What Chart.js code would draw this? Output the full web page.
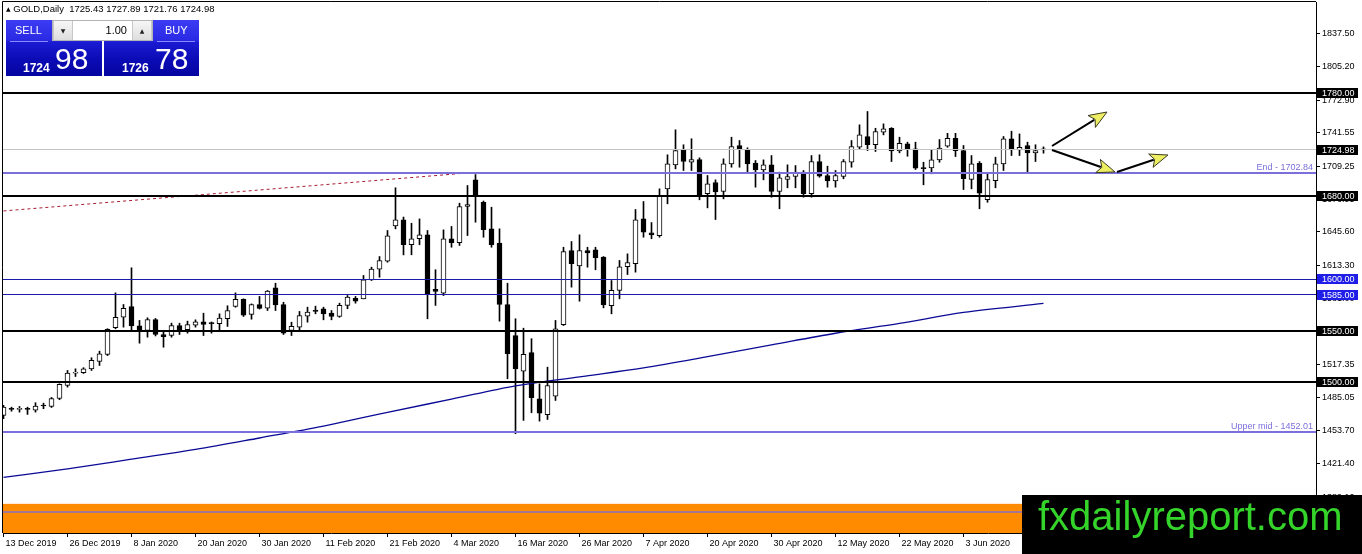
<!DOCTYPE html>
<html>
<head>
<meta charset="utf-8">
<title>GOLD,Daily</title>
<script src="https://cdn.jsdelivr.net/npm/chart.js@4.4.1/dist/chart.umd.min.js"></script>
<style>
  html, body { margin: 0; padding: 0; background: #fff; }
  #wrap { position: relative; width: 1362px; height: 554px; overflow: hidden; font-family: 'Liberation Sans', Arial, sans-serif; }
  #chart { position: absolute; left: 0; top: 0; }
  .title { position: absolute; left: 6px; top: 3px; font-size: 9.5px; line-height: 12px; color: #000; white-space: pre; }
  .title .tri { font-family: 'DejaVu Sans'; font-size: 6px; vertical-align: 1px; }
  .box { position: absolute; top: 20px; height: 56px; color: #fff;
         background: linear-gradient(to bottom, #3c3cf4 0%, #2a2ae4 36%, #1a1ad2 40%, #0c0cb6 70%, #0404a0 100%); }
  .sell { left: 6px; width: 96px; }
  .buy { left: 104px; width: 95px; }
  .box .lbl { position: absolute; top: 4px; font-size: 11px; line-height: 12px; }
  .box .sep { position: absolute; top: 21px; width: 38px; height: 1px; background: #8a8aff; }
  .box .small { position: absolute; top: 42px; font-size: 12px; line-height: 12px; font-weight: bold; }
  .box .big { position: absolute; top: 24px; font-size: 30px; line-height: 30px; }
  .lot { position: absolute; left: 52px; top: 20px; width: 101px; height: 21px; background: #fff; border: 1px solid #b4b4b4; box-sizing: border-box; }
  .lot .btn { position: absolute; top: 0; width: 20px; height: 19px; background: linear-gradient(#f6f6f6, #dedede); border-right: 1px solid #c8c8c8; border-left: 1px solid #c8c8c8; box-sizing: border-box; font-family: 'DejaVu Sans'; font-size: 6px; line-height: 19px; text-align: center; color: #222; }
  .lot .dn { left: 0; }
  .lot .up { right: 0; }
  .lot .val { position: absolute; right: 25px; top: 0; font-size: 11px; line-height: 19px; color: #000; }
  .mark { position: absolute; left: 1022px; top: 495px; width: 340px; height: 59px; background: #000; }
  .mark span { position: absolute; left: 16px; top: 1px; font-size: 40px; line-height: 40px; color: #35d42a; white-space: nowrap; }
</style>
</head>
<body>
<div id="wrap">
  <canvas id="chart" width="1362" height="554"></canvas>
  <div class="title"><span class="tri">▲</span> GOLD,Daily  1725.43 1727.89 1721.76 1724.98</div>
  <div class="box sell">
    <div class="lbl" style="left:9px">SELL</div>
    <div class="sep" style="left:4px"></div>
    <div class="small" style="left:17px">1724</div>
    <div class="big" style="left:49px">98</div>
  </div>
  <div class="box buy">
    <div class="lbl" style="left:61px">BUY</div>
    <div class="sep" style="left:53px"></div>
    <div class="small" style="left:18px">1726</div>
    <div class="big" style="left:51px">78</div>
  </div>
  <div class="lot">
    <div class="btn dn">▼</div>
    <div class="val">1.00</div>
    <div class="btn up">▲</div>
  </div>
  <div class="mark"><span>fxdailyreport.com</span></div>
</div>
<script>
// one label every 8 daily bars, starting 13 Dec 2019
const tickLabels = ['13 Dec 2019', '26 Dec 2019', '8 Jan 2020', '20 Jan 2020', '30 Jan 2020', '11 Feb 2020',
  '21 Feb 2020', '4 Mar 2020', '16 Mar 2020', '26 Mar 2020', '7 Apr 2020', '20 Apr 2020', '30 Apr 2020',
  '12 May 2020', '22 May 2020', '3 Jun 2020', '15 Jun 2020']
const priceTicks = [1837.50, 1805.20, 1772.90, 1741.55, 1709.25, 1676.95, 1645.60, 1613.30, 1581.00,
  1548.70, 1517.35, 1485.05, 1453.70, 1421.40, 1389.10]

const open = [1468.1, 1474.5, 1474.0, 1474.2, 1473.2, 1477.9, 1476.8, 1484.5, 1497.1, 1509.0,
  1509.4, 1513.2, 1520.3, 1527.1, 1552.9, 1563.1, 1573.5, 1554.8, 1550.3, 1560.9,
  1546.4, 1545.4, 1555.1, 1551.0, 1555.4, 1558.7, 1557.3, 1556.8, 1561.6, 1573.5,
  1580.5, 1565.8, 1575.4, 1571.8, 1591.6, 1575.4, 1550.3, 1553.5, 1564.1, 1569.9,
  1571.3, 1567.0, 1563.8, 1574.5, 1581.5, 1580.9, 1599.3, 1609.6, 1617.3, 1651.5,
  1657.3, 1633.2, 1639.0, 1642.8, 1590.0, 1586.4, 1639.0, 1635.1, 1670.2, 1696.0,
  1674.3, 1648.6, 1634.8, 1575.4, 1545.4, 1510.9, 1529.0, 1484.2, 1468.8, 1486.8,
  1555.8, 1627.6, 1612.8, 1627.6, 1628.3, 1621.2, 1574.2, 1589.0, 1611.9, 1614.8,
  1658.3, 1644.8, 1642.1, 1687.3, 1710.5, 1725.3, 1713.0, 1715.6, 1682.5, 1693.4,
  1684.7, 1711.5, 1729.2, 1725.3, 1712.1, 1705.7, 1710.5, 1684.7, 1696.3, 1699.2,
  1703.4, 1682.5, 1713.7, 1700.2, 1695.0, 1699.2, 1713.0, 1727.5, 1737.9, 1729.9,
  1742.0, 1745.9, 1724.0, 1730.8, 1726.0, 1707.5, 1707.6, 1715.3, 1728.5, 1736.2,
  1724.3, 1696.3, 1712.1, 1676.7, 1695.3, 1711.5, 1735.6, 1725.0, 1729.2, 1722.1,
  1725.43]
const high = [1478.0, 1476.1, 1476.8, 1476.1, 1480.4, 1480.0, 1485.5, 1498.7, 1511.6, 1513.2,
  1514.3, 1523.9, 1530.3, 1552.0, 1586.7, 1575.4, 1610.9, 1560.0, 1562.6, 1561.9,
  1548.6, 1557.4, 1557.3, 1559.3, 1560.6, 1567.0, 1558.5, 1566.4, 1574.2, 1586.7,
  1580.9, 1576.0, 1583.2, 1589.0, 1596.0, 1577.6, 1558.3, 1568.7, 1572.8, 1573.8,
  1572.8, 1569.6, 1576.7, 1584.1, 1583.2, 1603.5, 1611.5, 1621.8, 1647.0, 1688.3,
  1660.0, 1654.0, 1658.2, 1647.0, 1609.0, 1647.6, 1650.9, 1673.4, 1690.5, 1701.1,
  1675.5, 1669.5, 1648.6, 1596.0, 1561.6, 1552.5, 1542.3, 1498.7, 1514.8, 1560.0,
  1630.8, 1636.3, 1642.8, 1630.8, 1630.8, 1621.8, 1598.6, 1618.0, 1624.4, 1667.3,
  1675.0, 1654.7, 1687.3, 1720.2, 1744.4, 1729.9, 1735.7, 1717.3, 1700.2, 1696.0,
  1716.3, 1737.2, 1734.0, 1727.0, 1714.7, 1715.3, 1719.5, 1703.4, 1710.5, 1709.8,
  1705.0, 1719.5, 1720.2, 1709.2, 1705.0, 1715.6, 1734.0, 1749.2, 1762.1, 1745.9,
  1750.1, 1746.5, 1737.2, 1732.4, 1732.4, 1713.0, 1725.0, 1735.0, 1741.0, 1741.0,
  1729.2, 1719.5, 1713.7, 1701.8, 1717.9, 1737.9, 1743.0, 1740.4, 1732.4, 1729.9,
  1727.89]
const low = [1465.0, 1472.2, 1471.3, 1469.1, 1471.3, 1474.6, 1475.8, 1483.3, 1495.5, 1505.8,
  1508.7, 1511.6, 1516.4, 1526.0, 1551.9, 1553.5, 1550.3, 1538.0, 1543.8, 1545.0,
  1534.1, 1543.8, 1546.4, 1547.7, 1553.5, 1545.4, 1547.7, 1550.3, 1554.2, 1572.8,
  1563.8, 1561.2, 1571.0, 1569.6, 1569.6, 1546.4, 1545.4, 1550.3, 1558.3, 1566.4,
  1560.6, 1560.6, 1563.1, 1571.3, 1576.7, 1580.9, 1598.6, 1601.8, 1616.3, 1648.6,
  1623.4, 1623.5, 1633.2, 1561.6, 1574.5, 1584.1, 1630.8, 1632.5, 1642.1, 1655.0,
  1640.5, 1630.8, 1559.3, 1503.6, 1450.4, 1463.3, 1470.7, 1462.6, 1464.2, 1482.6,
  1555.1, 1592.2, 1578.6, 1611.5, 1609.0, 1572.2, 1566.4, 1580.9, 1604.4, 1606.7,
  1640.5, 1639.0, 1640.5, 1672.8, 1706.6, 1705.0, 1705.0, 1676.7, 1668.9, 1657.6,
  1677.6, 1708.2, 1708.2, 1703.4, 1688.9, 1696.0, 1679.2, 1668.0, 1688.3, 1688.3,
  1679.2, 1679.2, 1698.5, 1688.9, 1688.9, 1697.0, 1708.2, 1725.3, 1724.3, 1723.4,
  1739.5, 1713.7, 1722.1, 1718.8, 1706.0, 1691.2, 1701.8, 1713.0, 1727.5, 1718.5,
  1686.6, 1687.3, 1668.0, 1674.3, 1688.3, 1705.0, 1719.5, 1719.5, 1702.4, 1713.7,
  1721.76]
const close = [1476.1, 1474.0, 1474.4, 1473.9, 1477.1, 1477.2, 1484.5, 1498.1, 1509.0, 1509.6,
  1513.2, 1521.3, 1527.8, 1551.3, 1563.1, 1571.8, 1554.8, 1550.3, 1560.9, 1546.4,
  1544.2, 1555.1, 1550.3, 1556.1, 1558.7, 1556.1, 1556.9, 1562.2, 1569.6, 1580.5,
  1565.1, 1575.4, 1571.6, 1588.3, 1575.1, 1547.7, 1554.4, 1564.8, 1568.0, 1568.7,
  1566.4, 1563.8, 1574.5, 1582.5, 1578.6, 1599.3, 1609.6, 1618.0, 1641.9, 1657.3,
  1633.2, 1639.0, 1642.8, 1584.8, 1588.0, 1639.0, 1635.1, 1670.2, 1672.1, 1679.9,
  1647.7, 1633.2, 1575.4, 1527.8, 1513.2, 1527.1, 1485.2, 1470.3, 1497.1, 1551.9,
  1626.7, 1614.8, 1627.6, 1625.4, 1620.6, 1575.1, 1589.0, 1611.9, 1616.0, 1657.3,
  1645.3, 1642.8, 1681.1, 1711.5, 1724.3, 1713.7, 1715.6, 1681.5, 1692.1, 1684.4,
  1711.5, 1728.2, 1725.6, 1711.5, 1705.7, 1710.5, 1684.7, 1697.9, 1699.2, 1702.8,
  1682.5, 1713.7, 1699.5, 1695.0, 1700.2, 1713.7, 1728.2, 1739.5, 1729.9, 1742.7,
  1745.3, 1724.0, 1731.4, 1726.0, 1707.2, 1706.9, 1715.3, 1726.6, 1736.2, 1724.3,
  1697.0, 1711.5, 1683.1, 1696.3, 1711.5, 1735.6, 1725.0, 1727.5, 1722.1, 1724.3,
  1724.98]

// moving average read at every labelled bar
const maIndex = [0, 8, 16, 24, 32, 40, 48, 56, 64, 72, 80, 88, 96, 104, 112, 120, 130]
const maValue = [1408.1, 1416.5, 1425.8, 1435.2, 1446.3, 1457.8, 1471.1, 1483.9, 1496.8,
  1505.5, 1514.1, 1524.9, 1536.3, 1547.6, 1557.1, 1567.7, 1576.4]

const trendIndex = [0, 58.3]
const trendValue = [1665.9, 1702.84]

const blackLevels = [1780, 1680, 1550, 1500]
const blueLevels = [1600, 1585]
const namedLevels = [1702.84, 1452.01]
const namedLabels = ['End - 1702.84', 'Upper mid - 1452.01']
const bidPrice = 1724.98
const bandTop = 1382.6
const bandMid = 1374.3

// bar index / price pairs: start, then tip
const arrows = [
  [131.06, 1728.7, 137.94, 1761.6],
  [131.06, 1724.9, 138.94, 1703.6],
  [139.19, 1703.6, 145.56, 1720.0]
]

Chart.defaults.font.family = "'Liberation Sans', Arial, sans-serif"
Chart.defaults.font.size = 9
Chart.defaults.color = '#000'

const drawings = {
  id: 'drawings',
  beforeDatasetsDraw(chart) {
    const { ctx, chartArea: a, scales: { y } } = chart
    const top = y.getPixelForValue(bandTop)
    ctx.save()
    ctx.fillStyle = '#ff8c00'
    ctx.fillRect(a.left, top, a.right - a.left, a.bottom - top)
    const m = Math.round(y.getPixelForValue(bandMid))
    ctx.fillStyle = '#a07896'
    ctx.fillRect(a.left, m - 1, a.right - a.left, 2)
    ctx.restore()
  },
  afterDatasetsDraw(chart) {
    const { ctx, chartArea: a, scales: { y } } = chart
    ctx.save()
    ctx.beginPath()
    ctx.rect(a.left, a.top, a.right - a.left, a.bottom - a.top)
    ctx.clip()

    const hline = (py, color, width) => {
      ctx.fillStyle = color
      ctx.fillRect(a.left, Math.round(py - width / 2), a.right - a.left, width)
    }
    hline(y.getPixelForValue(bidPrice), '#c4c4c4', 1)
    blueLevels.forEach(v => hline(y.getPixelForValue(v), '#1c1caa', 1))
    namedLevels.forEach(v => hline(y.getPixelForValue(v), '#7b6fdc', 2))
    blackLevels.forEach(v => hline(y.getPixelForValue(v), '#000', 2))

    ctx.fillStyle = '#7b6fdc'
    ctx.textAlign = 'right'
    ctx.textBaseline = 'alphabetic'
    ctx.font = "9px 'Liberation Sans', Arial, sans-serif"
    namedLevels.forEach((v, k) => {
      ctx.fillText(namedLabels[k], a.right - 3, y.getPixelForValue(v) - 3)
    })
    ctx.restore()
  },
  afterDraw(chart) {
    const { ctx, chartArea: a, scales: { x, y } } = chart
    ctx.save()
    // left and top frame
    ctx.strokeStyle = '#000'
    ctx.lineWidth = 1
    ctx.beginPath()
    ctx.moveTo(a.left - 0.5, a.bottom)
    ctx.lineTo(a.left - 0.5, a.top - 0.5)
    ctx.lineTo(a.right, a.top - 0.5)
    ctx.stroke()

    // arrows
    arrows.forEach(([x1, y1, x2, y2]) => {
      const sx = x.getPixelForValue(x1), sy = y.getPixelForValue(y1)
      const tx = x.getPixelForValue(x2), ty = y.getPixelForValue(y2)
      const ang = Math.atan2(ty - sy, tx - sx)
      const len = 18, half = 7
      const bx = tx - len * Math.cos(ang), by = ty - len * Math.sin(ang)
      ctx.strokeStyle = '#000'
      ctx.lineWidth = 2
      ctx.beginPath()
      ctx.moveTo(sx, sy)
      ctx.lineTo(bx + 3 * Math.cos(ang), by + 3 * Math.sin(ang))
      ctx.stroke()
      ctx.beginPath()
      ctx.moveTo(tx, ty)
      ctx.lineTo(bx + half * Math.sin(ang), by - half * Math.cos(ang))
      ctx.lineTo(bx + 4 * Math.cos(ang), by + 4 * Math.sin(ang))
      ctx.lineTo(bx - half * Math.sin(ang), by + half * Math.cos(ang))
      ctx.closePath()
      ctx.fillStyle = '#eeee62'
      ctx.fill()
      ctx.lineWidth = 1
      ctx.strokeStyle = '#3a3a20'
      ctx.stroke()
    })

    // price boxes on the right scale
    ctx.font = "9px 'Liberation Sans', Arial, sans-serif"
    ctx.textAlign = 'left'
    ctx.textBaseline = 'middle'
    const tag = (v, fill) => {
      const py = Math.round(y.getPixelForValue(v))
      ctx.fillStyle = fill
      ctx.fillRect(a.right + 1, py - 5, 41, 10)
      ctx.fillStyle = '#fff'
      ctx.fillText(v.toFixed(2), a.right + 6, py + 0.5)
    }
    blackLevels.forEach(v => tag(v, '#000'))
    tag(bidPrice, '#000')
    blueLevels.forEach(v => tag(v, '#1e1ee8'))
    ctx.restore()
  }
}

new Chart(document.getElementById('chart'), {
  type: 'bar',
  data: {
    datasets: [
      {
        type: 'line',
        data: maIndex.map((i, k) => ({ x: i, y: maValue[k] })),
        borderColor: '#0a0a96',
        borderWidth: 1.3,
        pointRadius: 0,
        cubicInterpolationMode: 'monotone',
        order: 0
      },
      {
        type: 'line',
        data: trendIndex.map((i, k) => ({ x: i, y: trendValue[k] })),
        borderColor: '#a81c30',
        borderWidth: 1,
        borderDash: [3, 3],
        pointRadius: 0,
        order: 0
      },
      {
        data: open.map((o, i) => ({ x: i, y: [o, close[i]] })),
        backgroundColor: (c) => close[c.dataIndex] >= open[c.dataIndex] ? '#fff' : '#000',
        borderColor: '#000',
        borderWidth: 1,
        borderSkipped: false,
        barThickness: 5,
        minBarLength: 1,
        grouped: false,
        order: 1
      },
      {
        data: low.map((l, i) => ({ x: i, y: [l, high[i]] })),
        backgroundColor: '#000',
        borderWidth: 0,
        barThickness: 1,
        grouped: false,
        order: 2
      }
    ]
  },
  options: {
    responsive: false,
    animation: false,
    devicePixelRatio: 1,
    layout: { padding: { left: 3, top: 2, right: 0, bottom: 0 } },
    plugins: { legend: { display: false }, tooltip: { enabled: false } },
    scales: {
      x: {
        type: 'linear',
        min: -0.0625,
        max: 164.0625,
        offset: false,
        afterBuildTicks: (s) => { s.ticks = tickLabels.map((_, k) => ({ value: k * 8 })) },
        afterFit: (s) => { s.height = 21; s.paddingLeft = 0; s.paddingRight = 0 },
        ticks: {
          autoSkip: false,
          maxRotation: 0,
          align: 'start',
          labelOffset: 2,
          padding: 1,
          callback: (v) => tickLabels[Math.round(v / 8)]
        },
        grid: { drawOnChartArea: false, drawTicks: true, tickLength: 4, color: '#000', offset: false },
        border: { color: '#000' }
      },
      y: {
        position: 'right',
        min: 1354.4,
        max: 1868.0,
        afterBuildTicks: (s) => { s.ticks = priceTicks.map(v => ({ value: v })) },
        afterFit: (s) => { s.width = 46; s.paddingTop = 0; s.paddingBottom = 0 },
        ticks: { autoSkip: false, padding: 2, callback: (v) => v.toFixed(2) },
        grid: { drawOnChartArea: false, drawTicks: true, tickLength: 4, color: '#000' },
        border: { color: '#000' }
      }
    }
  },
  plugins: [drawings]
})
</script>
</body>
</html>
